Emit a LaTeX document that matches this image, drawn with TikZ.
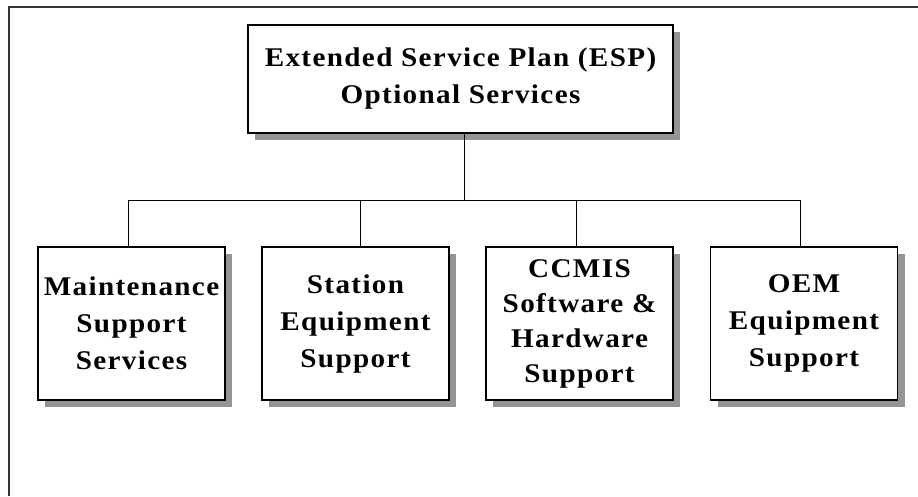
\documentclass[tikz,border=0pt]{standalone}
\usepackage{fontspec}
\setmainfont{Liberation Serif}[LetterSpace=5, FakeStretch=1.08]
\usetikzlibrary{shadows}

\tikzset{
  frame/.style={line width=1.4pt, draw=black!80},
  plan/.style={draw, line width=1.2pt, fill=white, inner sep=0pt,
    align=center, font=\fontsize{27}{37}\selectfont\bfseries,
    general shadow={fill=black!42, shadow xshift=7pt, shadow yshift=-7pt}},
  service/.style={plan, minimum width=187pt, minimum height=153pt},
  link/.style={line width=0.9pt}
}

\begin{document}
\begin{tikzpicture}[x=1pt, y=-1pt]
    \useasboundingbox (0,0) rectangle (918,496);

    % Outer frame (only top and left edge show)
    \draw[frame] (918,7) -- (9,7) -- (9,496);

    % Root box
    \node[plan, minimum width=425pt, minimum height=108pt] (top) at (460.5,79)
        {Extended Service Plan (ESP)\\Optional Services};

    % Service boxes
    \node[service] (maint)   at (131.5,323.5) {Maintenance\\Support\\Services};
    \node[service] (station) at (355.5,323.5) {Station\\Equipment\\Support};
    \node[service, font=\fontsize{27}{35}\selectfont\bfseries] (ccmis) at (579.5,323.5)
        {CCMIS\\Software \&\\Hardware\\Support};
    \node[service] (oem)     at (804,323.5) {OEM\\Equipment\\Support};

    % Bus line
    \coordinate (bus) at (0,200);
    \draw[link] ([xshift=3.5pt]top.south) -- ([xshift=3.5pt]top.south |- bus);
    \draw[link] ([xshift=-3.5pt]maint.north) |- ([xshift=-4pt]oem.north |- bus)
        -- ([xshift=-4pt]oem.north);
    \draw[link] ([xshift=4.5pt]station.north) -- ([xshift=4.5pt]station.north |- bus);
    \draw[link] ([xshift=-3.5pt]ccmis.north) -- ([xshift=-3.5pt]ccmis.north |- bus);
\end{tikzpicture}
\end{document}
